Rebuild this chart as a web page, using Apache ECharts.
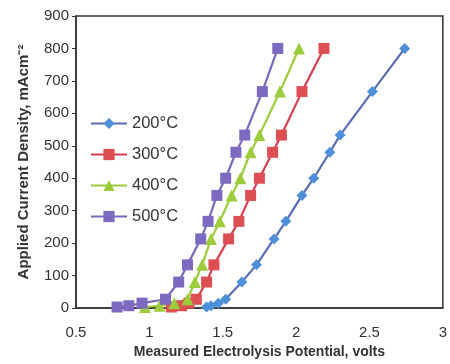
<!DOCTYPE html>
<html><head><meta charset="utf-8">
<script src="https://cdn.jsdelivr.net/npm/echarts@6/dist/echarts.min.js"></script>
<style>html,body{margin:0;padding:0;background:#fff}#c{width:450px;height:364px}</style>
</head><body><div id="c"></div>
<script>
const seriesNames = ['200°C', '300°C', '400°C', '500°C'];
const current = [3, 7, 15, 27, 80, 133, 213, 267, 347, 400, 480, 533, 667, 800];
const v200 = [1.39, 1.42, 1.47, 1.52, 1.63, 1.73, 1.85, 1.93, 2.04, 2.12, 2.23, 2.30, 2.52, 2.74];
const v300 = [1.15, 1.22, 1.27, 1.32, 1.39, 1.44, 1.54, 1.61, 1.69, 1.75, 1.84, 1.90, 2.04, 2.19];
const v400 = [0.97, 1.07, 1.17, 1.26, 1.31, 1.36, 1.42, 1.48, 1.56, 1.62, 1.69, 1.75, 1.89, 2.02];
const v500 = [0.78, 0.86, 0.95, 1.11, 1.20, 1.26, 1.35, 1.40, 1.46, 1.52, 1.59, 1.65, 1.77, 1.875];
const xTicks = [0.5, 1, 1.5, 2, 2.5, 3];
const yTicks = [0, 100, 200, 300, 400, 500, 600, 700, 800, 900];

const FONT = '"Liberation Sans", Arial, sans-serif';
const volts = [v200, v300, v400, v500];
const symbols = ['diamond', 'rect', 'triangle', 'rect'];
const sizes = [11, 11, 12, 11];
const lineColors = ['#5a6db3', '#d4404f', '#9ccc3c', '#7a68b8'];
const markColors = ['#4d8fd8', '#dd4f52', '#9ccc3c', '#7c6ac0'];

const chart = echarts.init(document.getElementById('c'), null, {renderer: 'canvas'});
chart.setOption({
  animation: false,
  backgroundColor: '#fff',
  grid: {left: 76, right: 3, top: 16, bottom: 53, show: true, borderColor: '#333', borderWidth: 1.5},
  legend: {
    orient: 'vertical', left: 90, top: 115, padding: 0,
    itemWidth: 36, itemHeight: 14, itemGap: 14,
    textStyle: {fontFamily: FONT, fontSize: 16.5, color: '#333'},
    data: seriesNames
  },
  xAxis: {
    type: 'value', min: xTicks[0], max: xTicks[xTicks.length - 1], interval: 0.5,
    splitLine: {show: false},
    axisLine: {lineStyle: {color: '#333', width: 1.5}},
    axisTick: {show: false},
    axisLabel: {fontFamily: FONT, fontSize: 15, color: '#333', margin: 17},
    name: 'Measured Electrolysis Potential, volts', nameLocation: 'middle', nameGap: 37,
    nameTextStyle: {fontFamily: FONT, fontSize: 14, fontWeight: 'bold', color: '#333'}
  },
  yAxis: {
    type: 'value', min: yTicks[0], max: yTicks[yTicks.length - 1], interval: 100,
    splitLine: {show: false},
    axisLine: {show: true, lineStyle: {color: '#333', width: 1.5}},
    axisTick: {show: true, length: 4, lineStyle: {color: '#333'}},
    axisLabel: {fontFamily: FONT, fontSize: 15, color: '#333', margin: 7},
    name: 'Applied Current Density, mAcm⁻²', nameLocation: 'middle', nameGap: 45,
    nameTextStyle: {fontFamily: FONT, fontSize: 15, fontWeight: 'bold', color: '#333'}
  },
  series: seriesNames.map((n, i) => ({
    name: n, type: 'line',
    data: volts[i].map((v, k) => [v, current[k]]),
    symbol: symbols[i], symbolSize: sizes[i],
    lineStyle: {color: lineColors[i], width: 2.2},
    itemStyle: {color: markColors[i]}
  }))
});
</script></body></html>
